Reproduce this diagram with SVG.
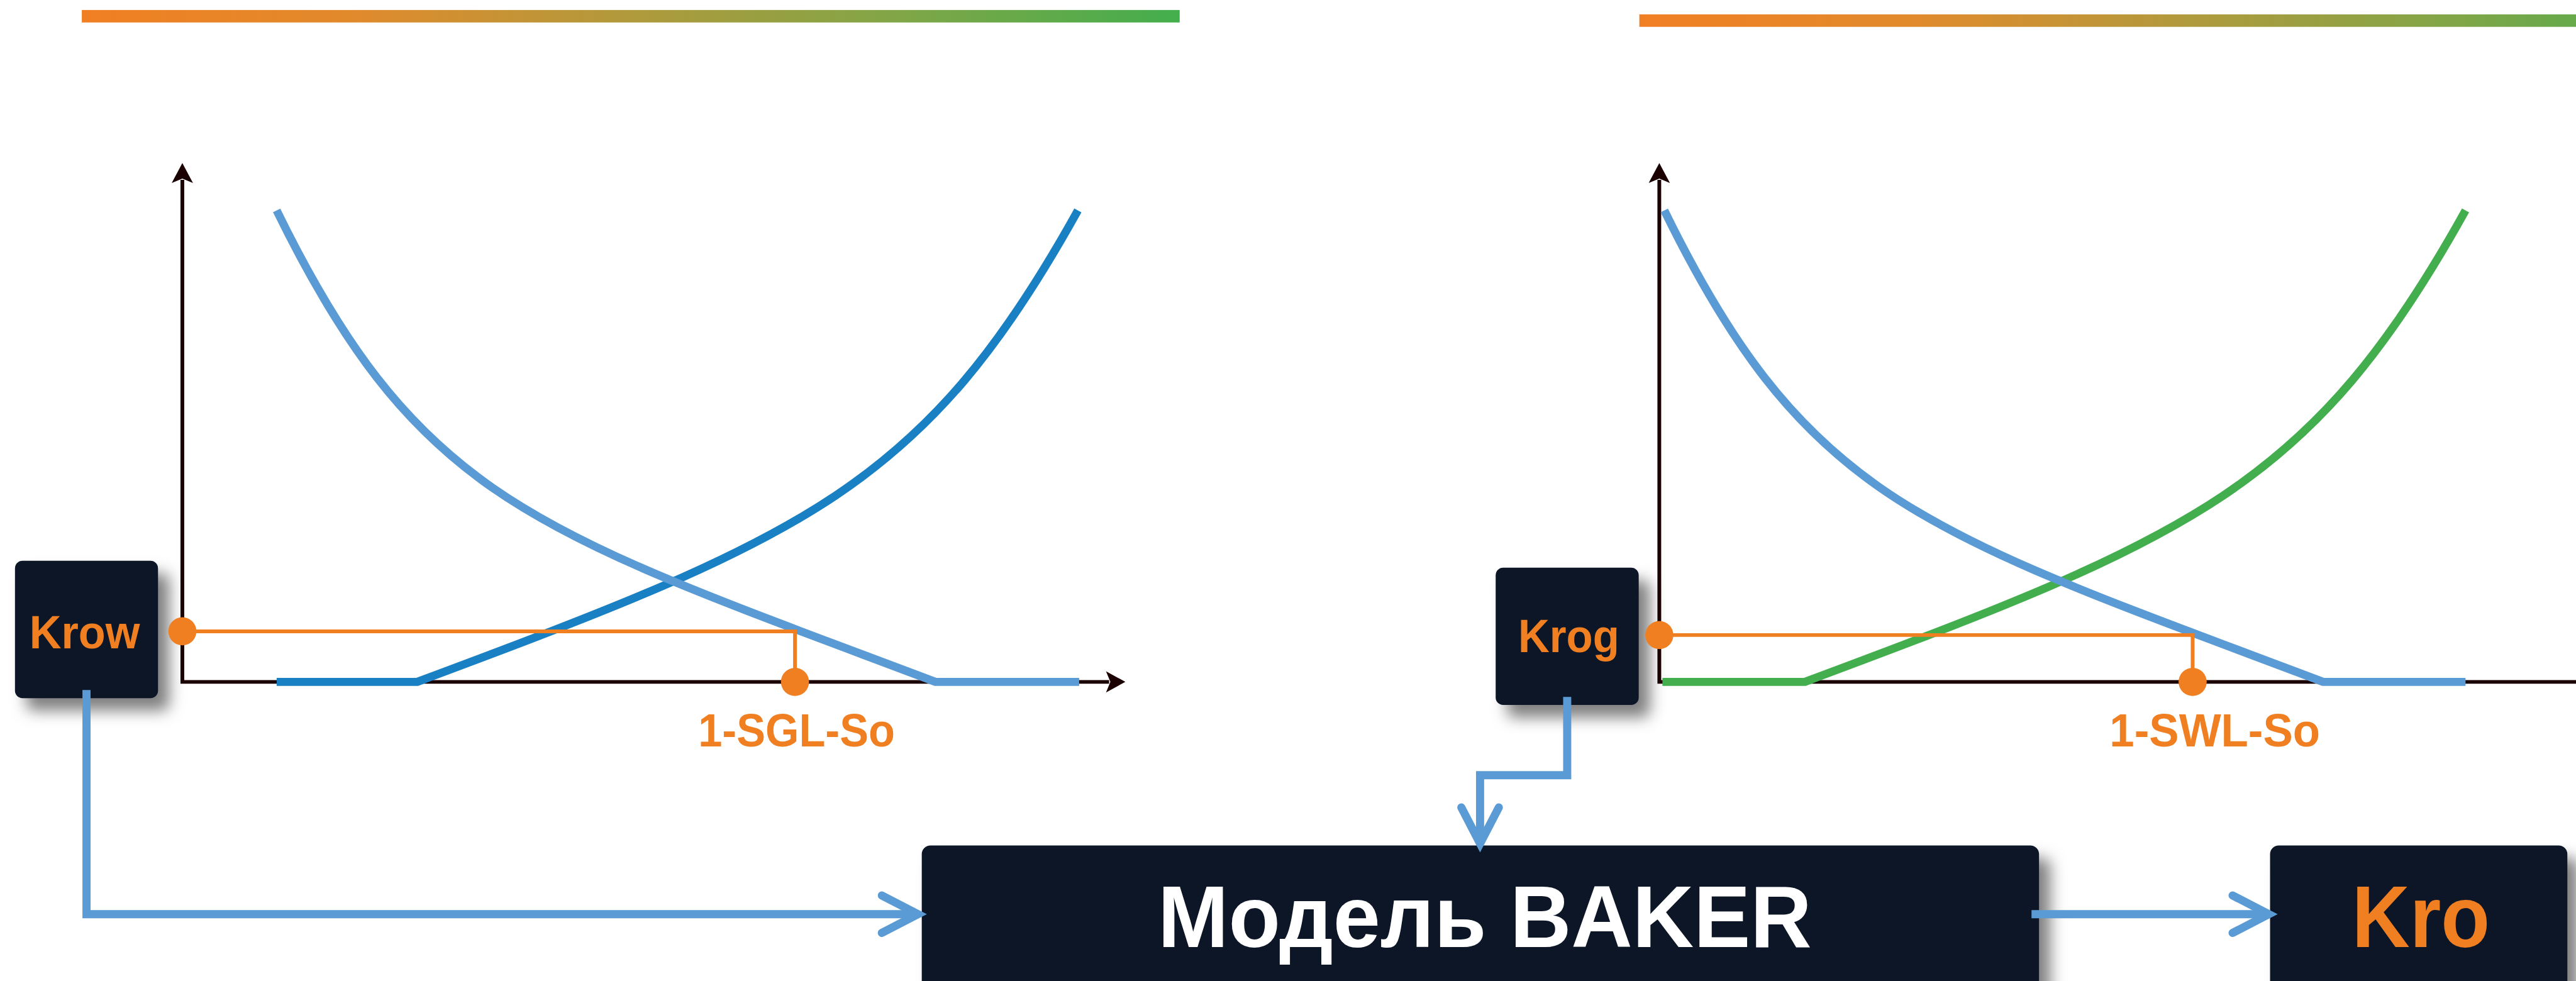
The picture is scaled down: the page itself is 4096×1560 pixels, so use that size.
<svg xmlns="http://www.w3.org/2000/svg" width="4096" height="1560" viewBox="0 0 4096 1560">
<style>
.box{fill:#081226;filter:url(#shadow)}
.lbl{font-family:"Liberation Sans",Arial,sans-serif;font-weight:bold}
.orange{fill:#f07f22}
.axis{fill:none;stroke:#1a0000;stroke-width:6;stroke-linejoin:miter}
.head{fill:#1a0000}
.lb{fill:none;stroke:#5b9bd5;stroke-width:13}
.db{fill:none;stroke:#1a80c4;stroke-width:13}
.gr{fill:none;stroke:#43ae4d;stroke-width:13}
.mark{fill:none;stroke:#f07f22;stroke-width:6}
.conn{fill:none;stroke:#5b9bd5;stroke-width:13;stroke-linejoin:miter;marker-end:url(#chev)}
</style>
<defs>
<linearGradient id="bar" x1="0" y1="0" x2="1" y2="0">
<stop offset="0" stop-color="#f07f22"/>
<stop offset="0.25" stop-color="#e08a2c"/>
<stop offset="0.5" stop-color="#b09a3c"/>
<stop offset="0.75" stop-color="#7fa647"/>
<stop offset="1" stop-color="#43ae4d"/>
</linearGradient>
<filter id="shadow" x="-20%" y="-20%" width="150%" height="150%">
<feDropShadow dx="18" dy="20" stdDeviation="12" flood-color="#000" flood-opacity="0.5"/>
</filter>
<marker id="chev" markerUnits="userSpaceOnUse" viewBox="-70 -40 80 80" refX="0" refY="0" markerWidth="80" markerHeight="80" orient="auto" overflow="visible">
<path d="M-58,-30 L0,0 L-58,30" fill="none" stroke="#5b9bd5" stroke-width="13" stroke-linecap="round" stroke-linejoin="miter"/>
</marker>
</defs>
<g transform="scale(0.993)">
<rect x="131" y="16" width="1758" height="20" fill="url(#bar)"/>
<rect x="2625" y="23" width="1758" height="20" fill="url(#bar)"/>

<g id="node-krow">
<rect class="box" x="24" y="898" width="229" height="220" rx="12"/>
<text class="lbl orange" x="47" y="1038" font-size="74" textLength="177" lengthAdjust="spacingAndGlyphs">Krow</text>
</g>
<g id="node-krog">
<rect class="box" x="2395" y="909" width="229" height="220" rx="12"/>
<text class="lbl orange" x="2431" y="1044" font-size="74" textLength="162" lengthAdjust="spacingAndGlyphs">Krog</text>
</g>
<g id="node-baker">
<rect class="box" x="1476" y="1354" width="1789" height="260" rx="14"/>
<text class="lbl" fill="#ffffff" x="1854" y="1517" font-size="141" textLength="1047" lengthAdjust="spacingAndGlyphs">Модель BAKER</text>
</g>
<g id="node-kro">
<rect class="box" x="3635" y="1354" width="476" height="260" rx="14"/>
<text class="lbl orange" x="3766" y="1517" font-size="141" textLength="221" lengthAdjust="spacingAndGlyphs">Kro</text>
</g>

<g id="chart-left">
<path class="axis" d="M292,288 V1092 H1776"/>
<path class="head" d="M292,261 L309,293 L292,286 L275,293 Z"/>
<path class="head" d="M1802,1092 L1771,1075 L1778,1092 L1771,1109 Z"/>
<path class="db" d="M443,1092 H668 C1290,860 1480,780 1726,337"/>
<path class="lb" d="M443,337 C673,807 860,851 1498,1092 H1728"/>
<path class="mark" d="M292,1011 H1273 V1092"/>
<circle class="orange" cx="292" cy="1011" r="22.5"/>
<circle class="orange" cx="1273" cy="1092" r="22.5"/>
<text class="lbl orange" x="1118" y="1195" font-size="74" textLength="315" lengthAdjust="spacingAndGlyphs">1-SGL-So</text>
</g>

<g id="chart-right">
<path class="axis" d="M2657,288 V1092 H4141"/>
<path class="head" d="M2657,261 L2674,293 L2657,286 L2640,293 Z"/>
<path class="head" d="M4167,1092 L4136,1075 L4143,1092 L4136,1109 Z"/>
<path class="gr" d="M2662,1092 H2890 C3512,860 3702,780 3948,337"/>
<path class="lb" d="M2665,337 C2895,807 3082,851 3720,1092 H3948"/>
<path class="mark" d="M2657,1017 H3511 V1092"/>
<circle class="orange" cx="2657" cy="1017" r="22.5"/>
<circle class="orange" cx="3511" cy="1092" r="22.5"/>
<text class="lbl orange" x="3378" y="1195" font-size="74" textLength="337" lengthAdjust="spacingAndGlyphs">1-SWL-So</text>
</g>

<g id="connectors">
<path class="conn" d="M138.5,1105 V1464 H1470"/>
<path class="conn" d="M2509.5,1116 V1241.5 H2370 V1351"/>
<path class="conn" d="M3253,1464 H3633"/>
</g>
</g>
</svg>
